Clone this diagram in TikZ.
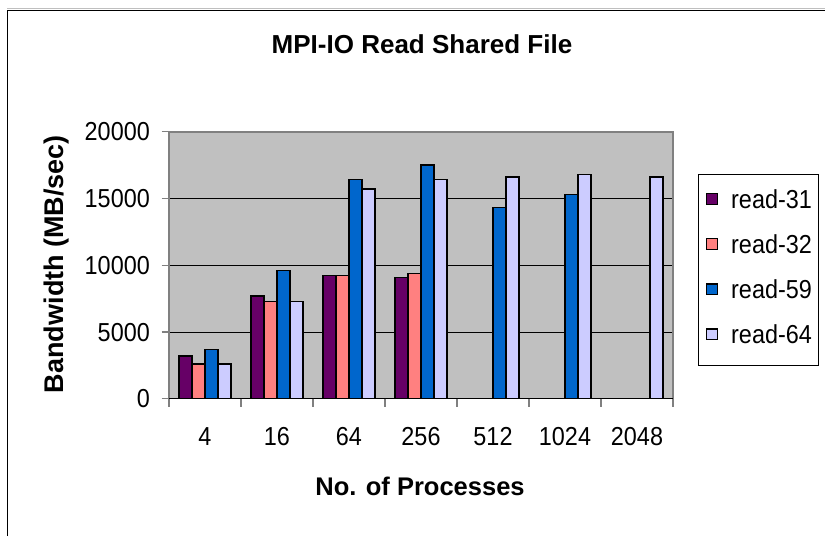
\documentclass[tikz,border=0pt]{standalone}
\usepackage{fontspec}
\setmainfont{Liberation Sans}
\newfontfamily\narrowsans[FakeStretch=0.9]{Liberation Sans}
\definecolor{plotbg}{HTML}{C0C0C0}
\definecolor{frameg}{HTML}{808080}
\definecolor{sA}{HTML}{660066}
\definecolor{sB}{HTML}{FF8080}
\definecolor{sC}{HTML}{0066CC}
\definecolor{sD}{HTML}{CCCCFF}
\tikzset{
  bar/.style={draw=black, line width=1.4pt},
  grid line/.style={draw=black, line width=0.9pt},
  tick/.style={draw=frameg, line width=1.2pt},
  ticklabel/.style={font=\narrowsans\fontsize{26}{26}\selectfont, inner sep=0pt},
  axistitle/.style={font=\bfseries\fontsize{25.5}{25.5}\selectfont, inner sep=0pt},
  legendkey/.style={draw=black, line width=1.2pt, minimum size=10.5pt, inner sep=0pt},
  legendtext/.style={font=\narrowsans\fontsize{26}{26}\selectfont, inner sep=0pt, anchor=base west},
}
\begin{document}
\begin{tikzpicture}[x=1pt, y=-1pt]
\useasboundingbox (0,0) rectangle (825,536);
% chart frame
\draw[black!25, line width=0.8pt] (7.3,8.6) -- (825,8.6);
\draw[black, line width=1.5pt] (7.3,536) -- (7.3,10.3) -- (825,10.3);

% title
\node[axistitle, font=\bfseries\fontsize{26}{26}\selectfont, anchor=base] (title) at (422,53.3) {MPI-IO Read Shared File};

% plot area: x from 169 to 673, y from 398.7 (0) to 131.7 (20000)
\def\plotl{169}\def\plotr{673}\def\plotb{398.7}\def\plott{131.7}
\fill[plotbg] (\plotl,\plott) rectangle (\plotr,\plotb);
\foreach \g in {1,2,3} {
  \pgfmathsetmacro\gy{\plotb-\g*66.75}
  \draw[grid line] (\plotl,\gy) -- (\plotr,\gy);
}
% bars: category/slot/value in hundreds of MB/sec
\foreach \c/\s/\v/\col in {
  0/0/32/sA, 0/1/26/sB, 0/2/37/sC, 0/3/26/sD,
  1/0/77/sA, 1/1/73/sB, 1/2/96/sC, 1/3/73/sD,
  2/0/92.5/sA, 2/1/92.5/sB, 2/2/164/sC, 2/3/157/sD,
  3/0/91/sA, 3/1/94/sB, 3/2/175/sC, 3/3/164/sD,
  4/2/143/sC, 4/3/166/sD,
  5/2/153/sC, 5/3/168/sD,
  6/3/166/sD} {
  \pgfmathsetmacro\bx{\plotl+72*\c+(0.75+\s)*13.09}
  \pgfmathsetmacro\bh{\v*1.335}
  \draw[bar, fill=\col] (\bx,\plotb) rectangle ++(13.09,-\bh);
}
% plot border and axes
\draw[frameg, line width=2pt] (\plotl,\plotb) -- (\plotl,\plott) -- (\plotr,\plott) -- (\plotr,\plotb);
\draw[black, line width=1.4pt] (\plotl,\plotb) -- (\plotr,\plotb);

% value axis ticks and labels
\foreach \g/\lab in {0/0,1/5000,2/10000,3/15000,4/20000} {
  \pgfmathsetmacro\gy{\plotb-\g*66.75}
  \draw[tick] (161.7,\gy) -- (\plotl,\gy);
  \node[ticklabel, anchor=base east] (yl\g) at (150,\gy+9.2) {\lab};
}
% category axis ticks and labels
\foreach \c in {0,...,7} {
  \draw[tick] (\plotl+72*\c,\plotb) -- (\plotl+72*\c,406.7);
}
\foreach \c/\lab in {0/4,1/16,2/64,3/256,4/512,5/1024,6/2048} {
  \node[ticklabel, anchor=base] (xl\c) at (\plotl+72*\c+36,445) {\lab};
}

% axis titles
\node[axistitle, anchor=base] (xtitle) at (420,495) {No. of Processes};
\node[axistitle, font=\bfseries\fontsize{27}{27}\selectfont, anchor=center, rotate=90] (ytitle) at (57,264) {Bandwidth (MB/sec)};

% legend
\node[draw=black, line width=1pt, fill=white, minimum width=120pt, minimum height=191pt, inner sep=0pt, anchor=north west] (legend) at (698.3,174) {};
\foreach \i/\col/\lab in {0/sA/read-31,1/sB/read-32,2/sC/read-59,3/sD/read-64} {
  \pgfmathsetmacro\ly{199+45.1*\i}
  \node[legendkey, fill=\col] (key\i) at (712,\ly) {};
  \node[legendtext] (lab\i) at (731,\ly+9.2) {\lab};
}
\end{tikzpicture}
\end{document}
